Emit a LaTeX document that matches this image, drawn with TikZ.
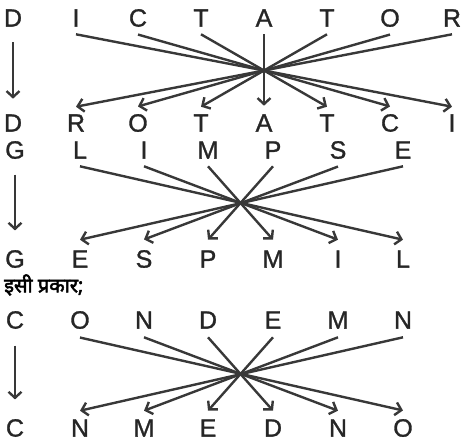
\documentclass[tikz,border=0pt]{standalone}
\usepackage{fontspec}
\usetikzlibrary{arrows.meta}
\newfontfamily\lettersfont[FakeBold=1.2]{Liberation Sans}
\newfontfamily\hindifont[Script=Devanagari,FakeBold=2.5]{Noto Sans}

\begin{document}
\begin{tikzpicture}[x=1pt,y=-1pt,
  ltr/.style={font={\lettersfont\fontsize{25}{25}\selectfont}, text=black!85, inner sep=0.5pt},
  arr/.style={-{Straight Barb[length=6pt,width=13pt]}, line width=2.4pt, draw=black!78}]
\useasboundingbox (0,0) rectangle (462,442);
% DICTATOR -> DROTATCI
\node[ltr] (dic1) at (13,18) {D};
\node[ltr] (dic2) at (76,18) {I};
\node[ltr] (dic3) at (138,18) {C};
\node[ltr] (dic4) at (201,18) {T};
\node[ltr] (dic5) at (264,18) {A};
\node[ltr] (dic6) at (327,18) {T};
\node[ltr] (dic7) at (390,18) {O};
\node[ltr] (dic8) at (452,18) {R};
\node[ltr] (dro1) at (13,123) {D};
\node[ltr] (dro2) at (76,123) {R};
\node[ltr] (dro3) at (138,123) {O};
\node[ltr] (dro4) at (201,123) {T};
\node[ltr] (dro5) at (264,123) {A};
\node[ltr] (dro6) at (327,123) {T};
\node[ltr] (dro7) at (390,123) {C};
\node[ltr] (dro8) at (452,123) {I};
\draw[arr, shorten <=15pt, shorten >=15pt] (dic1.south) -- (dro1.north);
\draw[arr] ([yshift=-7pt]dic2.south) -- ([yshift=7pt]dro8.north);
\draw[arr] ([yshift=-7pt]dic3.south) -- ([yshift=7pt]dro7.north);
\draw[arr] ([yshift=-7pt]dic4.south) -- ([yshift=7pt]dro6.north);
\draw[arr, shorten <=7pt, shorten >=8pt] (dic5.south) -- (dro5.north);
\draw[arr] ([yshift=-7pt]dic6.south) -- ([yshift=7pt]dro4.north);
\draw[arr] ([yshift=-7pt]dic7.south) -- ([yshift=7pt]dro3.north);
\draw[arr] ([yshift=-7pt]dic8.south) -- ([yshift=7pt]dro2.north);
% GLIMPSE -> GESPMIL
\node[ltr] (gli1) at (15,150) {G};
\node[ltr] (gli2) at (80,150) {L};
\node[ltr] (gli3) at (144,150) {I};
\node[ltr] (gli4) at (208,150) {M};
\node[ltr] (gli5) at (273,150) {P};
\node[ltr] (gli6) at (338,150) {S};
\node[ltr] (gli7) at (403,150) {E};
\node[ltr] (ges1) at (15,259) {G};
\node[ltr] (ges2) at (80,259) {E};
\node[ltr] (ges3) at (144,259) {S};
\node[ltr] (ges4) at (208,259) {P};
\node[ltr] (ges5) at (273,259) {M};
\node[ltr] (ges6) at (338,259) {I};
\node[ltr] (ges7) at (403,259) {L};
\draw[arr, shorten <=15pt, shorten >=19pt] (gli1.south) -- (ges1.north);
\draw[arr] ([yshift=-7pt]gli2.south) -- ([yshift=10pt]ges7.north);
\draw[arr] ([yshift=-7pt]gli3.south) -- ([yshift=10pt]ges6.north);
\draw[arr] ([yshift=-7pt]gli4.south) -- ([yshift=10pt]ges5.north);
\draw[arr] ([yshift=-7pt]gli5.south) -- ([yshift=10pt]ges4.north);
\draw[arr] ([yshift=-7pt]gli6.south) -- ([yshift=10pt]ges3.north);
\draw[arr] ([yshift=-7pt]gli7.south) -- ([yshift=10pt]ges2.north);
\node[anchor=west, inner sep=0pt, font={\hindifont\fontsize{20}{20}\selectfont}] (isi) at (4,285) {इसी प्रकार;};
% CONDEMN -> CNMEDNO
\node[ltr] (con1) at (15,320) {C};
\node[ltr] (con2) at (80,320) {O};
\node[ltr] (con3) at (144,320) {N};
\node[ltr] (con4) at (208,320) {D};
\node[ltr] (con5) at (273,320) {E};
\node[ltr] (con6) at (338,320) {M};
\node[ltr] (con7) at (403,320) {N};
\node[ltr] (cnm1) at (15,428) {C};
\node[ltr] (cnm2) at (80,428) {N};
\node[ltr] (cnm3) at (144,428) {M};
\node[ltr] (cnm4) at (208,428) {E};
\node[ltr] (cnm5) at (273,428) {D};
\node[ltr] (cnm6) at (338,428) {N};
\node[ltr] (cnm7) at (403,428) {O};
\draw[arr, shorten <=16pt, shorten >=19pt] (con1.south) -- (cnm1.north);
\draw[arr] ([yshift=-8pt]con2.south) -- ([yshift=8pt]cnm7.north);
\draw[arr] ([yshift=-8pt]con3.south) -- ([yshift=8pt]cnm6.north);
\draw[arr] ([yshift=-8pt]con4.south) -- ([yshift=8pt]cnm5.north);
\draw[arr] ([yshift=-8pt]con5.south) -- ([yshift=8pt]cnm4.north);
\draw[arr] ([yshift=-8pt]con6.south) -- ([yshift=8pt]cnm3.north);
\draw[arr] ([yshift=-8pt]con7.south) -- ([yshift=8pt]cnm2.north);
\end{tikzpicture}
\end{document}
